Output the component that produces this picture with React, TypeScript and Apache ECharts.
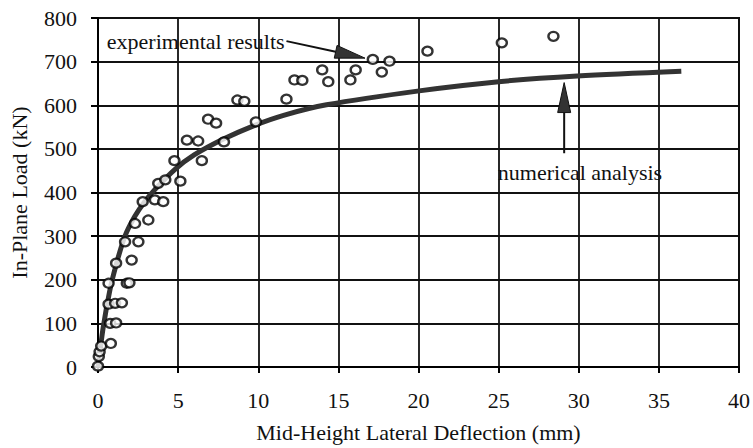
import React, { useEffect, useRef } from "react";
import * as echarts from "echarts";

// Experimental results: [deflection (mm), load (kN)]
const experimentalX = [
  0.0, 0.05, 0.1, 0.2, 0.8, 0.76, 1.13, 0.66, 1.07, 1.49, 0.66, 1.8, 1.96, 1.13, 2.1,
  1.69, 2.52, 2.31, 3.14, 2.79, 3.55, 4.07, 3.76, 4.2, 5.14, 4.77, 6.48, 5.55, 6.25,
  7.86, 6.87, 7.37, 8.7, 9.13, 9.85, 11.76, 12.26, 12.75, 13.99, 14.37, 15.75, 16.08,
  17.15, 18.19, 17.71, 20.56, 25.2, 28.42,
];
const experimentalY = [
  2, 24, 35, 48, 54, 100, 101, 144, 146, 147, 192, 192, 193, 238, 245,
  287, 287, 329, 337, 379, 383, 379, 421, 429, 426, 473, 473, 520, 518,
  516, 568, 559, 612, 609, 562, 614, 658, 657, 681, 654, 658, 681,
  705, 701, 676, 724, 743, 758,
];

// Numerical analysis curve
const numericalX = [0, 0.33, 0.74, 1.16, 1.67, 2.29, 2.91, 3.53, 4.77, 6.0, 7.86, 9.78, 11.58, 14.26, 20.04, 25.0, 29.9, 36.4];
const numericalY = [0, 92, 176, 238, 299, 345, 379, 406, 452, 486, 523, 554, 577, 601, 633, 654, 667, 678];

const xTicks = [0, 5, 10, 15, 20, 25, 30, 35, 40];
const yTicks = [0, 100, 200, 300, 400, 500, 600, 700, 800];

// Annotations in data coordinates
const expLabelPos = [0.55, 745];
const expArrowFrom = [11.76, 747];
const expArrowTo = [16.66, 708];
const numLabelPos = [24.95, 446];
const numArrowFrom = [29.09, 490];
const numArrowTo = [29.09, 652];

const FONT = "'Liberation Serif', 'Times New Roman', serif";

export default function App() {
  const ref = useRef<HTMLDivElement>(null);
  useEffect(() => {
    if (!ref.current) return;
    const chart = echarts.init(ref.current, null, { renderer: "svg" });
    const gridLine = { show: true, lineStyle: { color: "#111", width: 1.8 } };
    chart.setOption({
      animation: false,
      backgroundColor: "#fff",
      grid: {
        left: 92,
        right: 14,
        top: 18,
        bottom: 81,
        show: true,
        borderColor: "#111",
        borderWidth: 2,
        backgroundColor: "transparent",
      },
      xAxis: {
        type: "value",
        min: xTicks[0],
        max: xTicks[xTicks.length - 1],
        interval: 5,
        name: "Mid-Height Lateral Deflection (mm)",
        nameLocation: "middle",
        nameGap: 54,
        nameTextStyle: { fontFamily: FONT, fontSize: 22, color: "#111" },
        axisLine: { show: true, onZero: false, lineStyle: { color: "#000", width: 2 } },
        axisTick: { show: true, length: 6, lineStyle: { color: "#000", width: 2 } },
        axisLabel: { fontFamily: FONT, fontSize: 22, color: "#111", margin: 22 },
        splitLine: gridLine,
      },
      yAxis: {
        type: "value",
        min: yTicks[0],
        max: yTicks[yTicks.length - 1],
        interval: 100,
        name: "In-Plane Load (kN)",
        nameLocation: "middle",
        nameGap: 68,
        nameRotate: 90,
        nameTextStyle: { fontFamily: FONT, fontSize: 22, color: "#111" },
        axisLine: { show: true, onZero: false, lineStyle: { color: "#000", width: 2 } },
        axisTick: { show: true, length: 7, lineStyle: { color: "#000", width: 2 } },
        axisLabel: { fontFamily: FONT, fontSize: 22, color: "#111", margin: 21 },
        splitLine: gridLine,
      },
      series: [
        {
          type: "line",
          name: "numerical analysis",
          data: numericalX.map((x, i) => [x, numericalY[i]]),
          smooth: 0.3,
          showSymbol: false,
          symbol: "none",
          lineStyle: { color: "#333", width: 5 },
          z: 2,
        },
        {
          type: "scatter",
          name: "experimental results",
          data: experimentalX.map((x, i) => [x, experimentalY[i]]),
          symbol: "circle",
          symbolSize: [10, 9],
          itemStyle: { color: "#fff", borderColor: "#000", borderWidth: 2.3 },
          z: 3,
        },
      ],
    });

    const p = (v: number[]) => chart.convertToPixel({ gridIndex: 0 }, v) as number[];
    const arrow = (from: number[], to: number[]) => {
      const a = p(from);
      const b = p(to);
      const dx = b[0] - a[0];
      const dy = b[1] - a[1];
      const len = Math.sqrt(dx * dx + dy * dy);
      const ux = dx / len;
      const uy = dy / len;
      const headLen = 30;
      const headW = 6.5;
      const bx = b[0] - ux * headLen;
      const by = b[1] - uy * headLen;
      return [
        {
          type: "line",
          shape: { x1: a[0], y1: a[1], x2: bx, y2: by },
          style: { stroke: "#111", lineWidth: 2 },
          z: 10,
        },
        {
          type: "polygon",
          shape: {
            points: [
              [b[0], b[1]],
              [bx - uy * headW, by + ux * headW],
              [bx + uy * headW, by - ux * headW],
            ],
          },
          style: { fill: "#333", stroke: "#111", lineWidth: 1 },
          z: 10,
        },
      ];
    };
    const e = p(expLabelPos);
    const n = p(numLabelPos);
    chart.setOption({
      graphic: [
        {
          type: "text",
          x: e[0],
          y: e[1],
          style: {
            text: "experimental results",
            fontFamily: FONT,
            fontSize: 22,
            fill: "#111",
            verticalAlign: "middle",
            align: "left",
          },
          z: 10,
        },
        {
          type: "text",
          x: n[0],
          y: n[1],
          style: {
            text: "numerical analysis",
            fontFamily: FONT,
            fontSize: 22,
            fill: "#111",
            verticalAlign: "middle",
            align: "left",
          },
          z: 10,
        },
        ...arrow(expArrowFrom, expArrowTo),
        ...arrow(numArrowFrom, numArrowTo),
      ],
    });
    return () => chart.dispose();
  }, []);
  return (
    <div
      ref={ref}
      style={{ position: "absolute", left: 0, top: 0, width: 753, height: 448 }}
    />
  );
}
